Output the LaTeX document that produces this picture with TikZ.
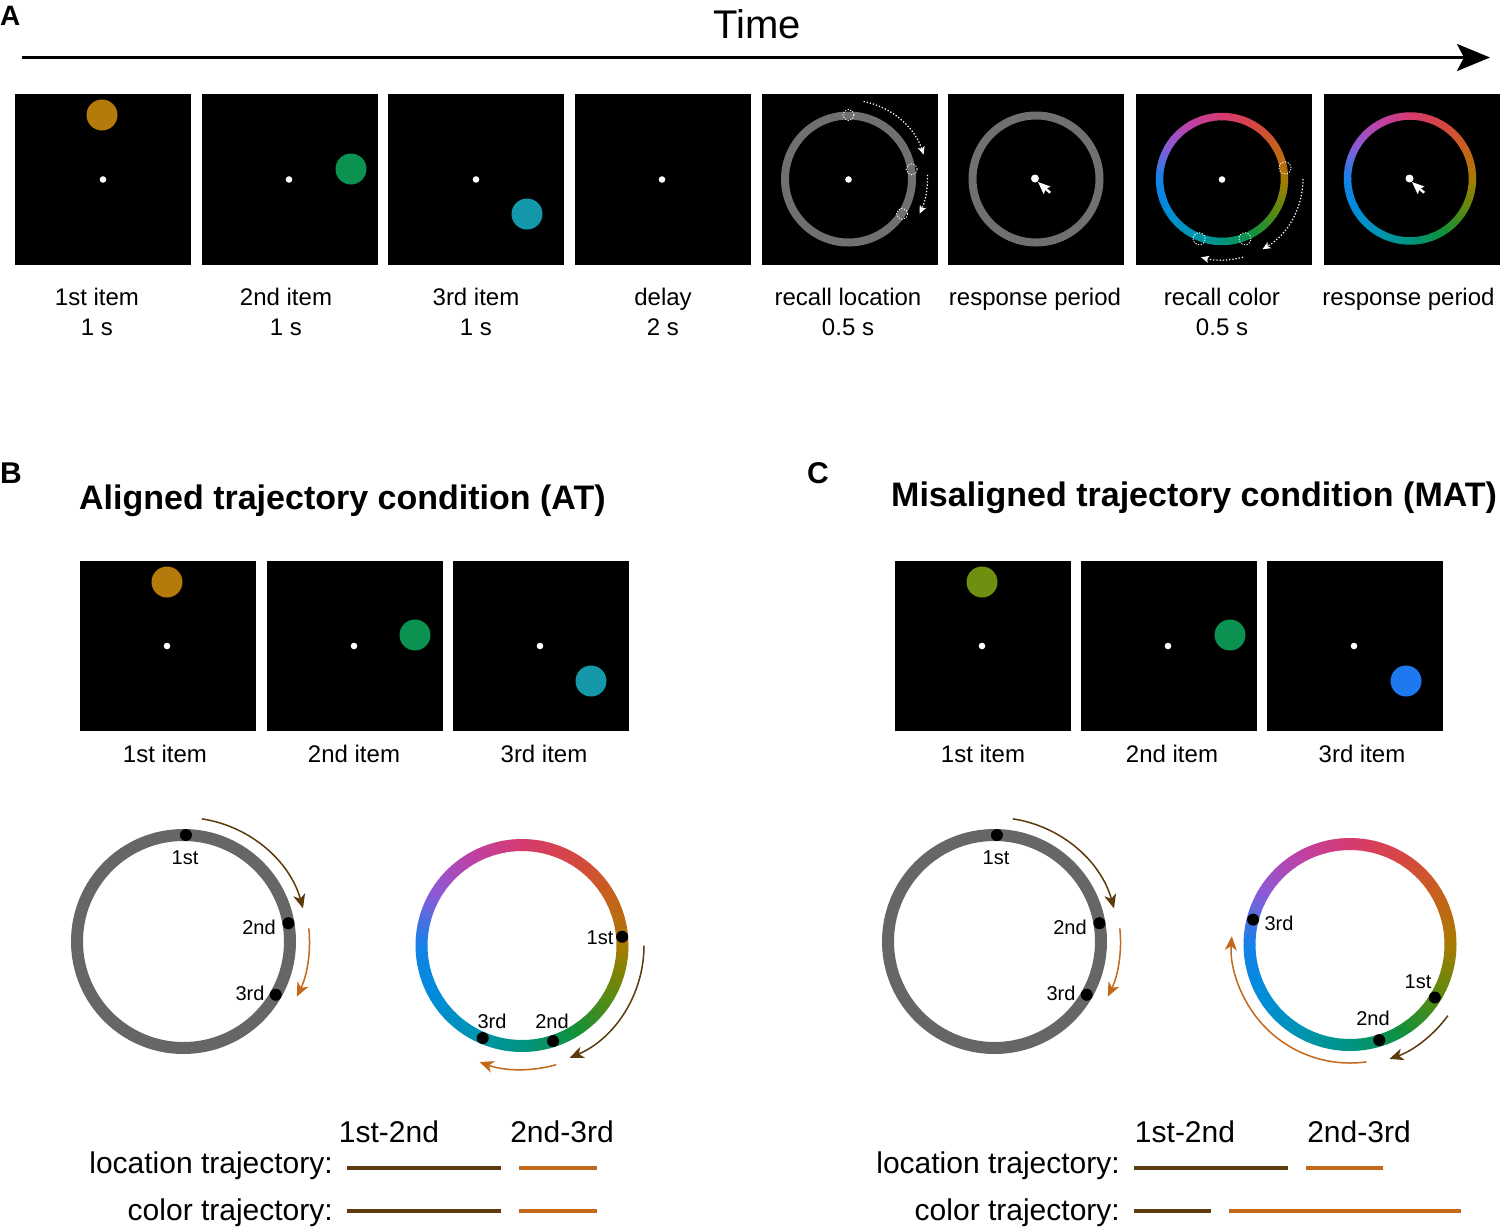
\documentclass[tikz,border=0pt]{standalone}
\usepackage{fontspec}
\setmainfont{Liberation Sans}
\usetikzlibrary{arrows.meta}

\definecolor{ringgray}{RGB}{112,112,112}
\definecolor{locgray}{RGB}{102,102,102}
\definecolor{trajbrown}{RGB}{92,58,12}
\definecolor{trajorange}{RGB}{196,104,28}
\definecolor{itemA}{RGB}{180,122,12}
\definecolor{itemB}{RGB}{11,145,80}
\definecolor{itemC}{RGB}{20,151,168}
\definecolor{itemMA}{RGB}{110,144,16}
\definecolor{itemMC}{RGB}{30,120,240}
\definecolor{hc0}{RGB}{168,124,0}
\definecolor{hc1}{RGB}{200,96,30}
\definecolor{hc2}{RGB}{214,70,68}
\definecolor{hc3}{RGB}{214,58,112}
\definecolor{hc4}{RGB}{190,66,165}
\definecolor{hc5}{RGB}{140,90,215}
\definecolor{hc6}{RGB}{20,130,232}
\definecolor{hc7}{RGB}{0,140,220}
\definecolor{hc8}{RGB}{0,148,180}
\definecolor{hc9}{RGB}{0,148,130}
\definecolor{hc10}{RGB}{15,145,60}
\definecolor{hc11}{RGB}{90,138,16}
\definecolor{hc12}{RGB}{168,124,0}

% hue ring: x, y, radius, width
\newcommand\huering[4]{%
  \foreach \hk in {0,...,11}{%
    \pgfmathtruncatemacro\hkn{\hk+1}%
    \foreach \hj in {0,...,5}{%
      \pgfmathtruncatemacro\hpc{100-(\hj+0.5)*100/6}%
      \pgfmathsetmacro\hra{\hk*30+\hj*5}%
      \draw[line width=#4, color=hc\hk!\hpc!hc\hkn] ([shift={(\hra:#3)}]#1,#2) arc[start angle=\hra, delta angle=5.4, radius=#3];
    }%
  }%
}
% arc arrow: style, cx, cy, r, a0, a1
\newcommand\trajarc[6]{\draw[#1] ([shift={(#5:#4)}]#2,#3) arc[start angle=#5, end angle=#6, radius=#4];}
% dot on circle: style, cx, cy, r, angle, dotradius
\newcommand\ondot[6]{\fill[#1] ([shift={(#5:#4)}]#2,#3) circle[radius=#6];}

\tikzset{
  panelbox/.style={fill=black},
  lbl/.style={font=\fontsize{24}{28}\selectfont, anchor=base, inner sep=0pt},
  smalllbl/.style={font=\fontsize{20}{24}\selectfont, anchor=base, inner sep=0pt},
  leglbl/.style={font=\fontsize{30}{35}\selectfont, anchor=base, inner sep=0pt},
  titlelbl/.style={font=\bfseries\fontsize{34}{40}\selectfont, anchor=base west, inner sep=0pt},
  letterlbl/.style={font=\bfseries\fontsize{30}{36}\selectfont, anchor=base west, inner sep=0pt},
  brownarr/.style={trajbrown, line width=1.5pt, -{Stealth[length=14pt,width=12pt,inset=4pt]}},
  orangearr/.style={trajorange, line width=1.5pt, -{Stealth[length=14pt,width=12pt,inset=4pt]}},
  dotarr/.style={white, line width=1.2pt, dash pattern=on 1.3pt off 1.9pt, -{Stealth[length=8pt,width=7pt,inset=2pt]}},
  dotcirc/.style={white, line width=0.9pt, dash pattern=on 1.2pt off 1.5pt},
  legline/.style={line width=3.2pt},
}

\begin{document}
\begin{tikzpicture}[x=1pt,y=1pt]
\useasboundingbox[fill=white] (0,0) rectangle (1500,-1227);

% ---------------- Panel A ----------------
\node[letterlbl, font=\bfseries\fontsize{28}{34}\selectfont] (labA) at (0,-25) {A};
\node[font=\fontsize{40}{46}\selectfont, anchor=base, inner sep=0pt] (time) at (757,-38) {Time};
\coordinate (t0) at (22,-57.5);
\coordinate (t1) at (1490,-57.5);
\draw[line width=3.3pt, -{Stealth[length=33pt,width=27pt,inset=7pt]}] (t0) -- (t1);

\foreach \px in {15,202,388,575,762,948,1136}{
  \fill[panelbox] (\px,-94) rectangle ++(176,-171);
}
\fill[panelbox] (1324,-94) rectangle (1500,-265);

% item dots
\fill[itemA] (102,-115) circle[radius=15.5];
\fill[itemB] (351,-169) circle[radius=15.5];
\fill[itemC] (527,-214) circle[radius=15.5];

% rings
\draw[ringgray, line width=8pt] (848.5,-179) circle[radius=63.5];
\draw[ringgray, line width=8pt] (1036,-179) circle[radius=63.5];
\huering{1222}{-179}{62.5}{7.5pt}
\huering{1410}{-178.5}{62.5}{7.5pt}

% fixations
\foreach \fx in {103,289,476,662,848.5,1222}{
  \fill[white] (\fx,-179.5) circle[radius=3.3];
}
\fill[white] (1035,-178.5) circle[radius=4];
\fill[white] (1409.5,-178.5) circle[radius=4];

% cursors
\begin{scope}[shift={(1038,-182)}, rotate=25, scale=0.9]
  \fill[white] (0,0) -- (0,-15) -- (3.5,-11.5) -- (6,-17) -- (8.5,-16) -- (6,-10.5) -- (10.5,-10.5) -- cycle;
\end{scope}
\begin{scope}[shift={(1412,-182)}, rotate=25, scale=0.9]
  \fill[white] (0,0) -- (0,-15) -- (3.5,-11.5) -- (6,-17) -- (8.5,-16) -- (6,-10.5) -- (10.5,-10.5) -- cycle;
\end{scope}

% recall location cues
\foreach \ang in {90,8.7,-33}{
  \draw[dotcirc] ([shift={(\ang:64)}]848.5,-179) circle[radius=5.5];
}
\trajarc{dotarr}{848.5}{-179}{79}{79}{18}
\trajarc{dotarr}{848.5}{-179}{79}{3}{-26}

% recall color cues
\foreach \ang in {10,-69,-111}{
  \draw[dotcirc] ([shift={(\ang:64)}]1222,-179) circle[radius=6];
}
\trajarc{dotarr}{1222}{-179}{81}{0}{-60}
\trajarc{dotarr}{1222}{-179}{81}{-75}{-105}

% labels A
\node[lbl] (a1a) at (97,-305.5) {1st item};
\node[lbl] (a1b) at (97,-335.5) {1 s};
\node[lbl] (a2a) at (286,-305.5) {2nd item};
\node[lbl] (a2b) at (286,-335.5) {1 s};
\node[lbl] (a3a) at (476,-305.5) {3rd item};
\node[lbl] (a3b) at (476,-335.5) {1 s};
\node[lbl] (a4a) at (663,-305.5) {delay};
\node[lbl] (a4b) at (663,-335.5) {2 s};
\node[lbl] (a5a) at (848,-305.5) {recall location};
\node[lbl] (a5b) at (848,-335.5) {0.5 s};
\node[lbl] (a6a) at (1035,-305.5) {response period};
\node[lbl] (a7a) at (1222,-305.5) {recall color};
\node[lbl] (a7b) at (1222,-335.5) {0.5 s};
\node[lbl] (a8a) at (1408.5,-305.5) {response period};

% ---------------- Panel B ----------------
\node[letterlbl] (labB) at (0,-483) {B};
\node[titlelbl] (titB) at (79,-509) {Aligned trajectory condition (AT)};
\foreach \px in {80,267,453}{
  \fill[panelbox] (\px,-561) rectangle ++(176,-170);
}
\fill[itemA] (167,-582) circle[radius=15.5];
\fill[itemB] (415,-635) circle[radius=15.5];
\fill[itemC] (591,-681) circle[radius=15.5];
\foreach \fx in {167,354,540}{
  \fill[white] (\fx,-646) circle[radius=3.3];
}
\node[lbl] (b1) at (165,-762) {1st item};
\node[lbl] (b2) at (354,-762) {2nd item};
\node[lbl] (b3) at (544,-762) {3rd item};

% location circle B
\draw[locgray, line width=12pt] (183.5,-941.5) circle[radius=106.5];
\ondot{black}{183.5}{-941.5}{106.5}{88.7}{6}
\ondot{black}{183.5}{-941.5}{106.5}{9.9}{6}
\ondot{black}{183.5}{-941.5}{106.5}{-30}{6}
\node[smalllbl] (bl1) at (185,-864) {1st};
\node[smalllbl] (bl2) at (259,-934) {2nd};
\node[smalllbl] (bl3) at (250,-1000) {3rd};
\trajarc{brownarr}{183.5}{-941.5}{124}{81.5}{15.5}
\trajarc{orangearr}{183.5}{-941.5}{126}{6}{-26}

% color circle B
\huering{522}{-945.5}{100.5}{12pt}
\ondot{black}{522}{-945.5}{100.5}{5}{6}
\ondot{black}{522}{-945.5}{100.5}{-72}{6}
\ondot{black}{522}{-945.5}{100.5}{-113}{6}
\node[smalllbl] (bc1) at (600,-944) {1st};
\node[smalllbl] (bc2) at (552,-1028) {2nd};
\node[smalllbl] (bc3) at (492,-1028) {3rd};
\trajarc{brownarr}{522}{-945.5}{122}{0}{-67}
\trajarc{orangearr}{522}{-945.5}{124}{-74}{-110}

% legend B
\node[leglbl] (bh1) at (389,-1142) {1st-2nd};
\node[leglbl] (bh2) at (562,-1142) {2nd-3rd};
\node[leglbl, anchor=base east] (bloc) at (333,-1173) {location trajectory:};
\node[leglbl, anchor=base east] (bcol) at (333,-1220) {color trajectory:};
\draw[legline, trajbrown] (347,-1168) -- (501,-1168);
\draw[legline, trajorange] (519,-1168) -- (597,-1168);
\draw[legline, trajbrown] (347,-1211) -- (501,-1211);
\draw[legline, trajorange] (519,-1211) -- (597,-1211);

% ---------------- Panel C ----------------
\node[letterlbl] (labC) at (807,-483) {C};
\node[titlelbl] (titC) at (891,-506) {Misaligned trajectory condition (MAT)};
\foreach \px in {895,1081,1267}{
  \fill[panelbox] (\px,-561) rectangle ++(176,-170);
}
\fill[itemMA] (982,-582) circle[radius=15.5];
\fill[itemB] (1230,-635) circle[radius=15.5];
\fill[itemMC] (1406,-681) circle[radius=15.5];
\foreach \fx in {982,1168,1354}{
  \fill[white] (\fx,-646) circle[radius=3.3];
}
\node[lbl] (c1) at (983,-762) {1st item};
\node[lbl] (c2) at (1172,-762) {2nd item};
\node[lbl] (c3) at (1362,-762) {3rd item};

% location circle C
\draw[locgray, line width=12pt] (994.5,-941.5) circle[radius=106.5];
\ondot{black}{994.5}{-941.5}{106.5}{88.7}{6}
\ondot{black}{994.5}{-941.5}{106.5}{9.9}{6}
\ondot{black}{994.5}{-941.5}{106.5}{-30}{6}
\node[smalllbl] (cl1) at (996,-864) {1st};
\node[smalllbl] (cl2) at (1070,-934) {2nd};
\node[smalllbl] (cl3) at (1061,-1000) {3rd};
\trajarc{brownarr}{994.5}{-941.5}{124}{81.5}{15.5}
\trajarc{orangearr}{994.5}{-941.5}{126}{6}{-26}

% color circle C
\huering{1350}{-944.5}{100.5}{12pt}
\ondot{black}{1350}{-944.5}{100}{-32}{6}
\ondot{black}{1350}{-944.5}{100}{-73}{6}
\ondot{black}{1350}{-944.5}{100}{165.6}{6}
\node[smalllbl] (cc3) at (1279,-930) {3rd};
\node[smalllbl] (cc1) at (1418,-988) {1st};
\node[smalllbl] (cc2) at (1373,-1025) {2nd};
\trajarc{brownarr}{1350}{-944.5}{121}{-36}{-71}
\trajarc{orangearr}{1350}{-944.5}{118.5}{-82}{-184}

% legend C
\node[leglbl] (ch1) at (1185,-1142) {1st-2nd};
\node[leglbl] (ch2) at (1359,-1142) {2nd-3rd};
\node[leglbl, anchor=base east] (cloc) at (1120,-1173) {location trajectory:};
\node[leglbl, anchor=base east] (ccol) at (1120,-1220) {color trajectory:};
\draw[legline, trajbrown] (1134,-1168) -- (1288,-1168);
\draw[legline, trajorange] (1306,-1168) -- (1383,-1168);
\draw[legline, trajbrown] (1134,-1211) -- (1211,-1211);
\draw[legline, trajorange] (1229,-1211) -- (1461,-1211);
\end{tikzpicture}
\end{document}
